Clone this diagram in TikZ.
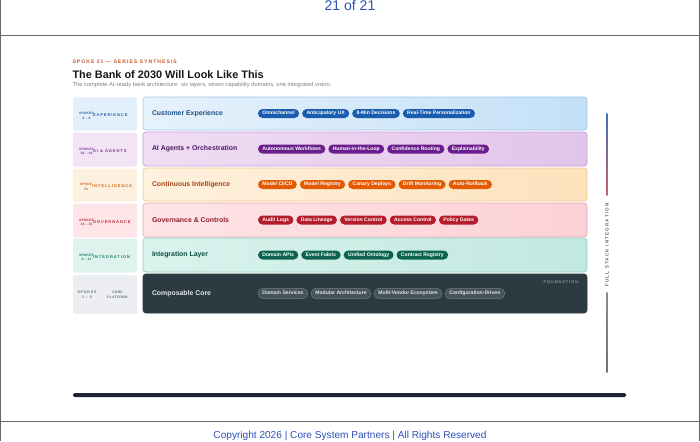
\documentclass[tikz,border=0pt]{standalone}
\usepackage{fontspec}
\setmainfont{Liberation Sans}
\newfontfamily\lsHead[LetterSpace=20]{Liberation Sans}
\newfontfamily\lsSpk[LetterSpace=6]{Liberation Sans}
\newfontfamily\lsCat[LetterSpace=22]{Liberation Sans}
\newfontfamily\lsSide[LetterSpace=25]{Liberation Sans}
\definecolor{frm}{HTML}{666666}
\definecolor{pageblue}{HTML}{2B4FB5}
\definecolor{hdorange}{HTML}{C8552B}
\definecolor{ttl}{HTML}{15171C}
\definecolor{subg}{HTML}{7A8088}
\definecolor{bar}{HTML}{1F2236}
% row 1 blue
\definecolor{aL}{HTML}{E6F2FC}\definecolor{aR}{HTML}{C4E0F7}\definecolor{aB}{HTML}{9FC9EC}
\definecolor{aLab}{HTML}{E3F0FB}\definecolor{aT}{HTML}{1D4F8A}\definecolor{aP}{HTML}{1A5CAE}\definecolor{aS}{HTML}{2A64A8}
% row 2 purple
\definecolor{bL}{HTML}{F0DDF3}\definecolor{bR}{HTML}{E2C4EA}\definecolor{bB}{HTML}{C99DD8}
\definecolor{bLab}{HTML}{F2E3F5}\definecolor{bT}{HTML}{4B1A66}\definecolor{bP}{HTML}{6A1D8C}\definecolor{bS}{HTML}{7B3A94}
% row 3 orange
\definecolor{cL}{HTML}{FEF1DE}\definecolor{cR}{HTML}{FDE2BD}\definecolor{cB}{HTML}{F0C88C}
\definecolor{cLab}{HTML}{FDF0DE}\definecolor{cT}{HTML}{A54512}\definecolor{cP}{HTML}{E35A00}\definecolor{cS}{HTML}{D06A1A}
% row 4 red
\definecolor{dL}{HTML}{FEE4E7}\definecolor{dR}{HTML}{FCD1D6}\definecolor{dB}{HTML}{E9A6AE}
\definecolor{dLab}{HTML}{FDE4E7}\definecolor{dT}{HTML}{8E1F2D}\definecolor{dP}{HTML}{B41D2B}\definecolor{dS}{HTML}{B53040}
% row 5 teal
\definecolor{eL}{HTML}{DAF3ED}\definecolor{eR}{HTML}{C1E8DF}\definecolor{eB}{HTML}{90D0C0}
\definecolor{eLab}{HTML}{DEF2EE}\definecolor{eT}{HTML}{0F4B3F}\definecolor{eP}{HTML}{0C6450}\definecolor{eS}{HTML}{1C7A64}
% row 6 dark
\definecolor{fF}{HTML}{2C3A41}\definecolor{fLab}{HTML}{ECEEF1}\definecolor{fT}{HTML}{E3E8EA}
\definecolor{fP}{HTML}{46545A}\definecolor{fPB}{HTML}{6E7C82}\definecolor{fPT}{HTML}{DDE2E5}\definecolor{fS}{HTML}{6A737B}
\definecolor{fnd}{HTML}{8A969C}
\definecolor{sidet}{HTML}{5F6670}

\newcommand{\pillrow}[3]{%
  \foreach \t [count=\i, evaluate=\i as \j using int(\i-1)] in {#3}{%
    \ifnum\i=1
      \node[#2, anchor=west] (#1p\i) at ([xshift=115pt]#1.west) {\t};
    \else
      \node[#2, anchor=west] (#1p\i) at ([xshift=3pt]#1p\j.east) {\t};
    \fi
  }%
}

\begin{document}
\begin{tikzpicture}[x=1pt,y=-1pt,
  every node/.style={inner sep=0pt, outer sep=0pt},
  frameline/.style={draw=frm, line width=0.8pt},
  mainbox/.style={rounded corners=3pt, line width=0.7pt, minimum width=444pt, anchor=north west},
  labbox/.style={rounded corners=2pt, minimum width=64pt, anchor=north west},
  pillbase/.style={inner xsep=4.4pt, inner ysep=0pt, text height=3.7pt, text depth=0.9pt,
    font=\fontsize{5.1}{5}\selectfont\bfseries},
  pill/.style={pillbase, fill=#1, rounded corners=4.5pt, minimum height=9pt, text=white},
  darkpill/.style={pillbase, fill=fP, draw=fPB, line width=0.5pt, rounded corners=5.2pt,
    minimum height=10.4pt, text=fPT},
  rowtitle/.style={anchor=west, font=\fontsize{6.9}{7}\selectfont\bfseries},
  spk/.style={align=center, font=\lsSpk\fontsize{3.3}{4.6}\selectfont\bfseries},
  cat/.style={anchor=west, font=\lsCat\fontsize{4.1}{4.6}\selectfont\bfseries},
]
\useasboundingbox (0,0) rectangle (700,441);

% page frame
\draw[frameline] (0.5,0) -- (0.5,441);
\draw[frameline] (699.5,0) -- (699.5,441);
\draw[frameline] (0,35) -- (700,35);
\draw[frameline] (0,421) -- (700,421);
\node[anchor=base, text=pageblue, font=\fontsize{14}{14}\selectfont] (pgnum) at (350,11) {21 of 21};
\node[anchor=base, text=pageblue, font=\fontsize{10.1}{10}\selectfont] (copy) at (350,438.3) {Copyright 2026 | Core System Partners | All Rights Reserved};

% header
\node[anchor=base west, text=hdorange, font=\lsHead\fontsize{5.1}{5}\selectfont\bfseries] (kicker) at (72.5,64) {SPOKE 21 — SERIES SYNTHESIS};
\node[anchor=base west, text=ttl, font=\fontsize{10.9}{11}\selectfont\bfseries] (title) at (72.5,78.3) {The Bank of 2030 Will Look Like This};
\node[anchor=base west, text=subg, font=\fontsize{5.8}{6}\selectfont] (subtitle) at (72.5,86.5) {The complete AI-ready bank architecture: six layers, seven capability domains, one integrated vision.};

% ---------- row 1
\node[labbox, fill=aLab, minimum height=33pt] (l1) at (73,97.5) {};
\node[mainbox, draw=aB, left color=aL, right color=aR, minimum height=33pt] (r1) at (143,97) {};
\node[spk, text=aS] (s1) at (86.5,116) {SPOKES\\6 – 8};
\node[cat, text=aS] (c1) at (93,115.5) {EXPERIENCE};
\node[rowtitle, text=aT] (t1) at ([xshift=9pt]r1.west) {Customer Experience};
\pillrow{r1}{pill=aP}{Omnichannel,Anticipatory UX,8-Min Decisions,Real-Time Personalization}

% ---------- row 2
\node[labbox, fill=bLab, minimum height=34pt] (l2) at (73,132.5) {};
\node[mainbox, draw=bB, left color=bL, right color=bR, minimum height=34pt] (r2) at (143,132) {};
\node[spk, text=bS] (s2) at (86.5,151.5) {SPOKES\\16 – 19};
\node[cat, text=bS] (c2) at (93,151) {AI \& AGENTS};
\node[rowtitle, text=bT] (t2) at ([xshift=9pt]r2.west) {AI Agents + Orchestration};
\pillrow{r2}{pill=bP}{Autonomous Workflows,Human-in-the-Loop,Confidence Routing,Explainability}

% ---------- row 3
\node[labbox, fill=cLab, minimum height=33pt] (l3) at (73,168.5) {};
\node[mainbox, draw=cB, left color=cL, right color=cR, minimum height=33pt] (r3) at (143,168) {};
\node[spk, text=cS] (s3) at (86,187) {SPOKE\\20};
\node[cat, text=cS] (c3) at (92,186.5) {INTELLIGENCE};
\node[rowtitle, text=cT] (t3) at ([xshift=9pt]r3.west) {Continuous Intelligence};
\pillrow{r3}{pill=cP}{Model CI/CD,Model Registry,Canary Deploys,Drift Monitoring,Auto-Rollback}

% ---------- row 4
\node[labbox, fill=dLab, minimum height=34pt] (l4) at (73,203.5) {};
\node[mainbox, draw=dB, left color=dL, right color=dR, minimum height=34pt] (r4) at (143,203) {};
\node[spk, text=dS] (s4) at (86.5,222.5) {SPOKES\\13 – 15};
\node[cat, text=dS] (c4) at (93,222) {GOVERNANCE};
\node[rowtitle, text=dT] (t4) at ([xshift=9pt]r4.west) {Governance \& Controls};
\pillrow{r4}{pill=dP}{Audit Logs,Data Lineage,Version Control,Access Control,Policy Gates}

% ---------- row 5
\node[labbox, fill=eLab, minimum height=34pt] (l5) at (73,238.5) {};
\node[mainbox, draw=eB, left color=eL, right color=eR, minimum height=34pt] (r5) at (143,238) {};
\node[spk, text=eS] (s5) at (86.5,257.5) {SPOKES\\9 – 12};
\node[cat, text=eS] (c5) at (93,257) {INTEGRATION};
\node[rowtitle, text=eT] (t5) at ([xshift=9pt]r5.west) {Integration Layer};
\pillrow{r5}{pill=eP}{Domain APIs,Event Fabric,Unified Ontology,Contract Registry}

% ---------- row 6
\node[labbox, fill=fLab, minimum height=39pt] (l6) at (73,275) {};
\node[mainbox, draw=fF, fill=fF, minimum height=39pt] (r6) at (143,274) {};
\node[spk, text=fS, font=\lsCat\fontsize{3.6}{5}\selectfont\bfseries] (s6) at (87,294.5) {SPOKES\\1 – 5};
\node[spk, text=fS, font=\lsSpk\fontsize{3.4}{5}\selectfont\bfseries] (c6) at (117.5,294.5) {CORE\\PLATFORM};
\node[rowtitle, text=fT] (t6) at ([xshift=9pt]r6.west) {Composable Core};
\pillrow{r6}{darkpill}{Domain Services,Modular Architecture,Multi-Vendor Ecosystem,Configuration-Driven}
\node[anchor=base east, text=fnd, font=\lsCat\fontsize{4}{4}\selectfont\bfseries] (fnd) at (578,283) {FOUNDATION};

% side integration rail
\node[rotate=90, text=sidet, font=\lsSide\fontsize{4.6}{4.6}\selectfont\bfseries] (side) at (607,245) {FULL STACK INTEGRATION};
\shade[top color=aP!85, middle color=bP!70, bottom color=dP!70] (606.4,113) rectangle (607.6,195);
\shade[top color=black!45, middle color=eP!75, bottom color=black!55] (606.4,292) rectangle (607.6,372);

% bottom bar
\fill[bar, rounded corners=1.5pt] (73,393) rectangle (626,397);
\end{tikzpicture}
\end{document}
